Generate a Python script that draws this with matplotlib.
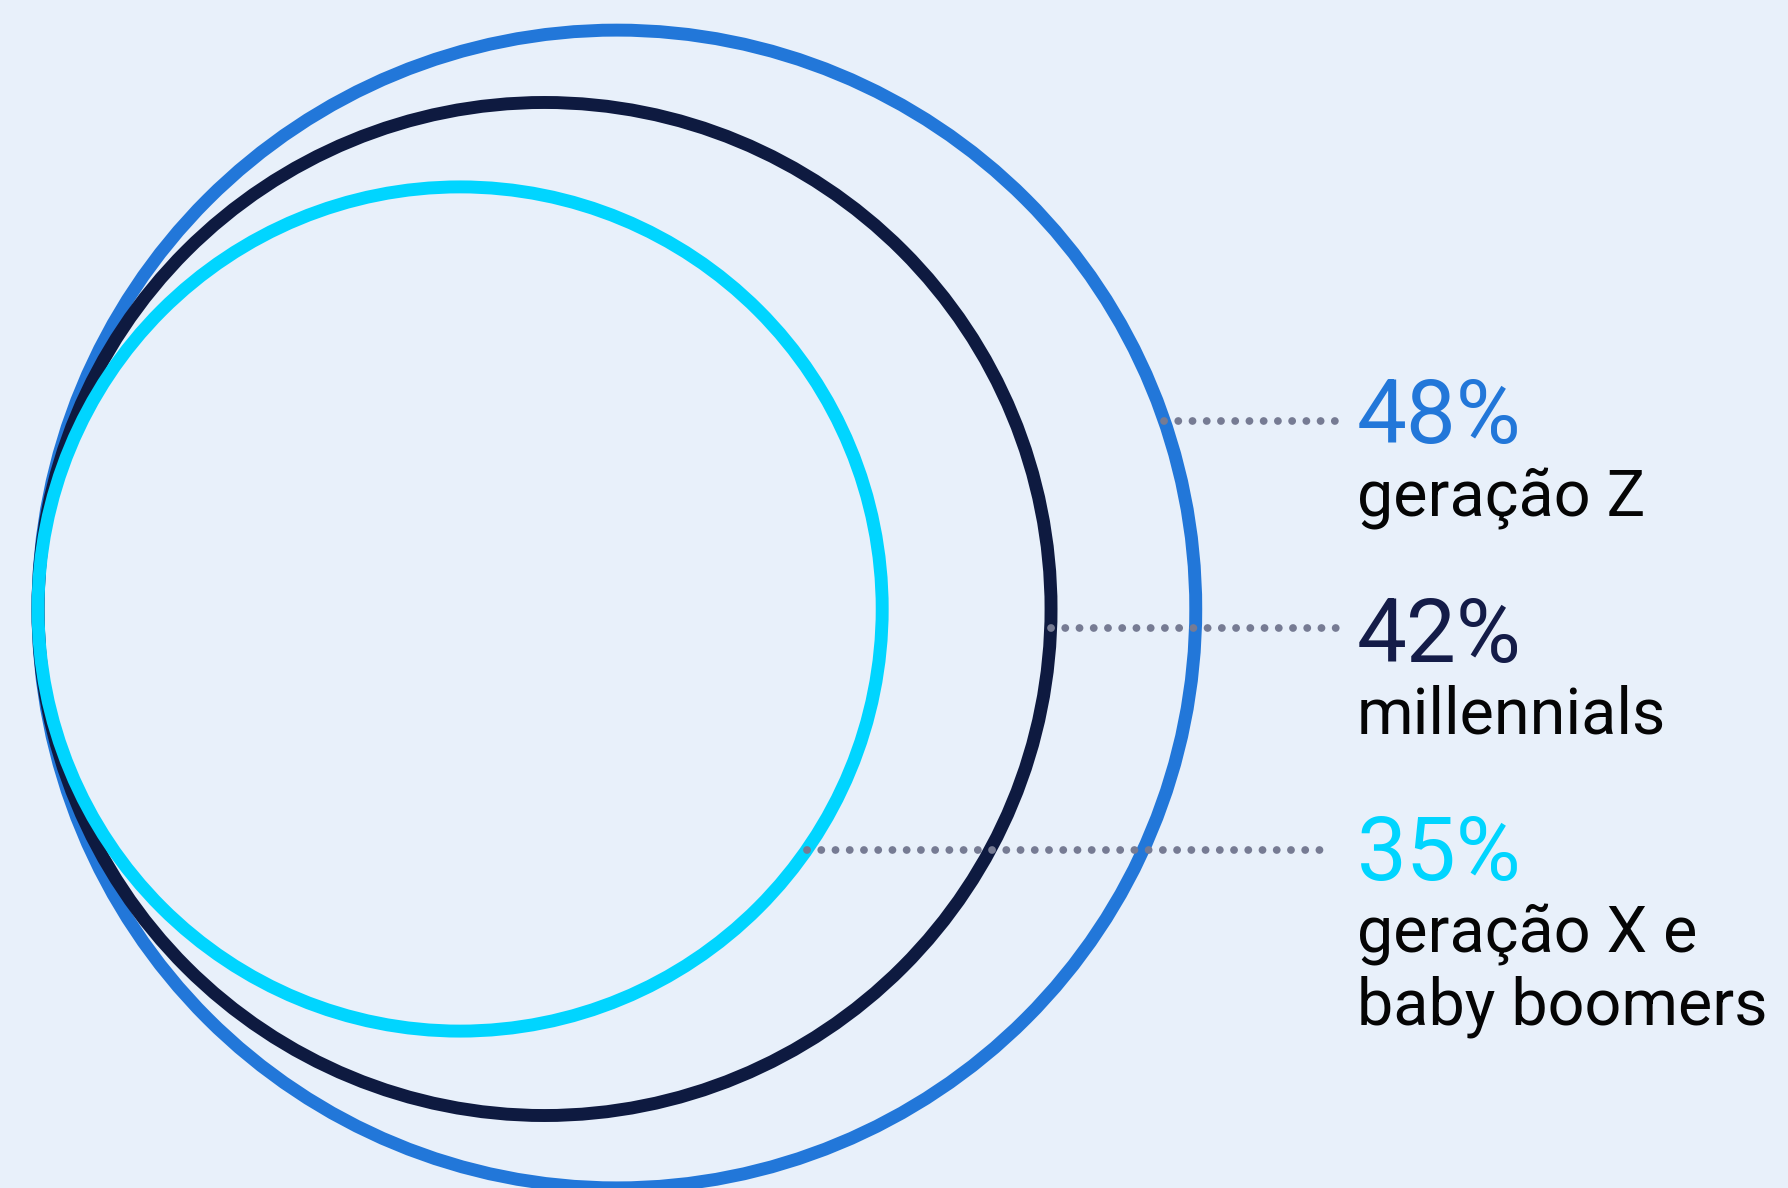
import matplotlib
matplotlib.use("Agg")
import matplotlib.pyplot as plt
from matplotlib.patches import Circle
import numpy as np

# ---- data ----
values = [48, 42, 35]
pct_labels = ["48%", "42%", "35%"]
categories = ["geração Z", "millennials", "geração X e\nbaby boomers"]

# ---- styles ----
ring_colors = ["#2277D9", "#0E1A40", "#00D5FF"]
pct_colors = ["#2277D9", "#141C48", "#00D5FF"]
bg = "#E8F0FA"
dot_color = "#767B93"

# ---- layout (pixel space) ----
W, H = 1788, 1188
px_per_pct = 12.06
tangent_x = 38
center_y = 609
leader_y = [421, 628, 850]
leader_end = [1342, 1342, 1326]
text_x = 1357
pct_baseline = [443, 662, 880]
label_baseline = [517, 733, 952]
line_step = 73

fig = plt.figure(figsize=(W / 100, H / 100), dpi=100, facecolor=bg)
ax = fig.add_axes([0, 0, 1, 1])
ax.set_facecolor(bg)
ax.set_xlim(0, W)
ax.set_ylim(H, 0)
ax.set_aspect("equal")
ax.axis("off")

for i, v in enumerate(values):
    r = v * px_per_pct
    cx = tangent_x + r
    ax.add_patch(Circle((cx, center_y), r, fill=False, lw=9.3,
                        edgecolor=ring_colors[i], zorder=2 + i))

for i, v in enumerate(values):
    r = v * px_per_pct
    cx = tangent_x + r
    dy = leader_y[i] - center_y
    x0 = cx + np.sqrt(r * r - dy * dy)
    ax.plot([x0, leader_end[i]], [leader_y[i], leader_y[i]],
            color=dot_color, lw=5.6, dashes=(0.01, 1.82),
            dash_capstyle="round", zorder=10)
    ax.text(text_x, pct_baseline[i], pct_labels[i], color=pct_colors[i],
            fontsize=64, fontfamily="Roboto", fontweight="normal",
            va="baseline", ha="left")
    for j, line in enumerate(categories[i].split("\n")):
        ax.text(text_x, label_baseline[i] + j * line_step, line,
                color="#050505", fontsize=46.5, fontfamily="Roboto",
                va="baseline", ha="left")

fig.savefig("out.png", dpi=100, facecolor=bg)
